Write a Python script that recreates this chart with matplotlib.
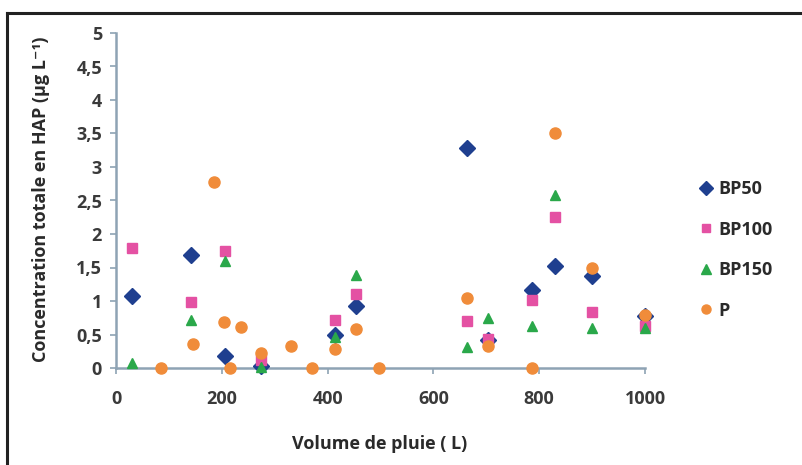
import matplotlib
matplotlib.use("Agg")
import matplotlib.pyplot as plt
from matplotlib.lines import Line2D

plt.rcParams['font.family'] = ['Open Sans', 'DejaVu Sans']

# Data
bp_x = [30, 142, 206, 274, 414, 454, 663, 704, 786, 830, 900, 1000]
bp50 = [1.08, 1.68, 0.18, 0.03, 0.49, 0.93, 3.28, 0.42, 1.17, 1.52, 1.38, 0.78]
bp100 = [1.79, 0.98, 1.75, 0.12, 0.72, 1.11, 0.70, 0.44, 1.02, 2.25, 0.83, 0.63]
bp150 = [0.08, 0.72, 1.59, 0.02, 0.47, 1.39, 0.32, 0.74, 0.62, 2.58, 0.59, 0.60]
p_x = [85, 145, 186, 204, 215, 236, 274, 331, 370, 414, 454, 497, 663, 704, 786, 830, 900, 1000]
p_y = [0.0, 0.36, 2.77, 0.69, 0.0, 0.61, 0.22, 0.33, 0.0, 0.29, 0.58, 0.0, 1.05, 0.33, 0.0, 3.51, 1.49, 0.79]

x_ticks = [0, 200, 400, 600, 800, 1000]
y_ticks = [0, 0.5, 1, 1.5, 2, 2.5, 3, 3.5, 4, 4.5, 5]
y_tick_labels = ['0', '0,5', '1', '1,5', '2', '2,5', '3', '3,5', '4', '4,5', '5']

series_names = ['BP50', 'BP100', 'BP150', 'P']
colors = ['#1f3f8f', '#e451a3', '#2aa84a', '#f08c3a']

fig = plt.figure(figsize=(8.02, 4.65), dpi=100)
ax = fig.add_axes([116/802, 1 - 368/465, (645-116)/802, (368-33)/465])

ax.plot(bp_x, bp50, linestyle='none', marker='D', markersize=8.5, color=colors[0], clip_on=False, zorder=3)
ax.plot(bp_x, bp100, linestyle='none', marker='s', markersize=7, color=colors[1], clip_on=False, zorder=4)
ax.plot(bp_x, bp150, linestyle='none', marker='^', markersize=7.5, color=colors[2], clip_on=False, zorder=5)
ax.plot(p_x, p_y, linestyle='none', marker='o', markersize=8, color=colors[3], clip_on=False, zorder=6)

ax.set_xlim(0, 1000)
ax.set_ylim(0, 5)
ax.set_xticks(x_ticks)
ax.set_yticks(y_ticks)
ax.set_yticklabels(y_tick_labels)

axis_col = '#8ea3b4'
for s in ['top', 'right']:
    ax.spines[s].set_visible(False)
for s in ['left', 'bottom']:
    ax.spines[s].set_color(axis_col)
    ax.spines[s].set_linewidth(1.8)
ax.tick_params(axis='both', colors=axis_col, length=4, width=1.2, direction='out',
               labelcolor='#3a3a3a', labelsize=13)
ax.tick_params(axis='x', pad=12)
ax.tick_params(axis='y', pad=6)
for lab in ax.get_xticklabels() + ax.get_yticklabels():
    lab.set_fontweight('bold')

fig.text(380/802, 1 - 444/465, 'Volume de pluie ( L)', ha='center', va='center',
         fontsize=13, fontweight='bold', color='#2a2a2a')
fig.text(41/802, 1 - 199/465, 'Concentration totale en HAP (µg L⁻¹)', ha='center', va='center',
         rotation=90, fontsize=13, fontweight='bold', color='#2a2a2a')

handles = [
    Line2D([], [], linestyle='none', marker='D', markersize=7, color=colors[0]),
    Line2D([], [], linestyle='none', marker='s', markersize=6, color=colors[1]),
    Line2D([], [], linestyle='none', marker='^', markersize=6.5, color=colors[2]),
    Line2D([], [], linestyle='none', marker='o', markersize=6.5, color=colors[3]),
]
leg = fig.legend(handles, series_names, loc='upper left', bbox_to_anchor=(701/802, 1 - 180/465),
                 frameon=False, fontsize=13, labelspacing=1.25, handlelength=0.6,
                 handletextpad=0.35, borderpad=0, borderaxespad=0)
for t in leg.get_texts():
    t.set_color('#2a2a2a')
    t.set_fontweight('bold')

# outer frame lines (top and left)
fig.add_artist(Line2D([7/802, 1], [1 - 13/465, 1 - 13/465], color='#222222', linewidth=2.2,
                      transform=fig.transFigure))
fig.add_artist(Line2D([7/802, 7/802], [0, 1 - 13/465], color='#222222', linewidth=2.2,
                      transform=fig.transFigure))

fig.savefig('out.png', dpi=100)
